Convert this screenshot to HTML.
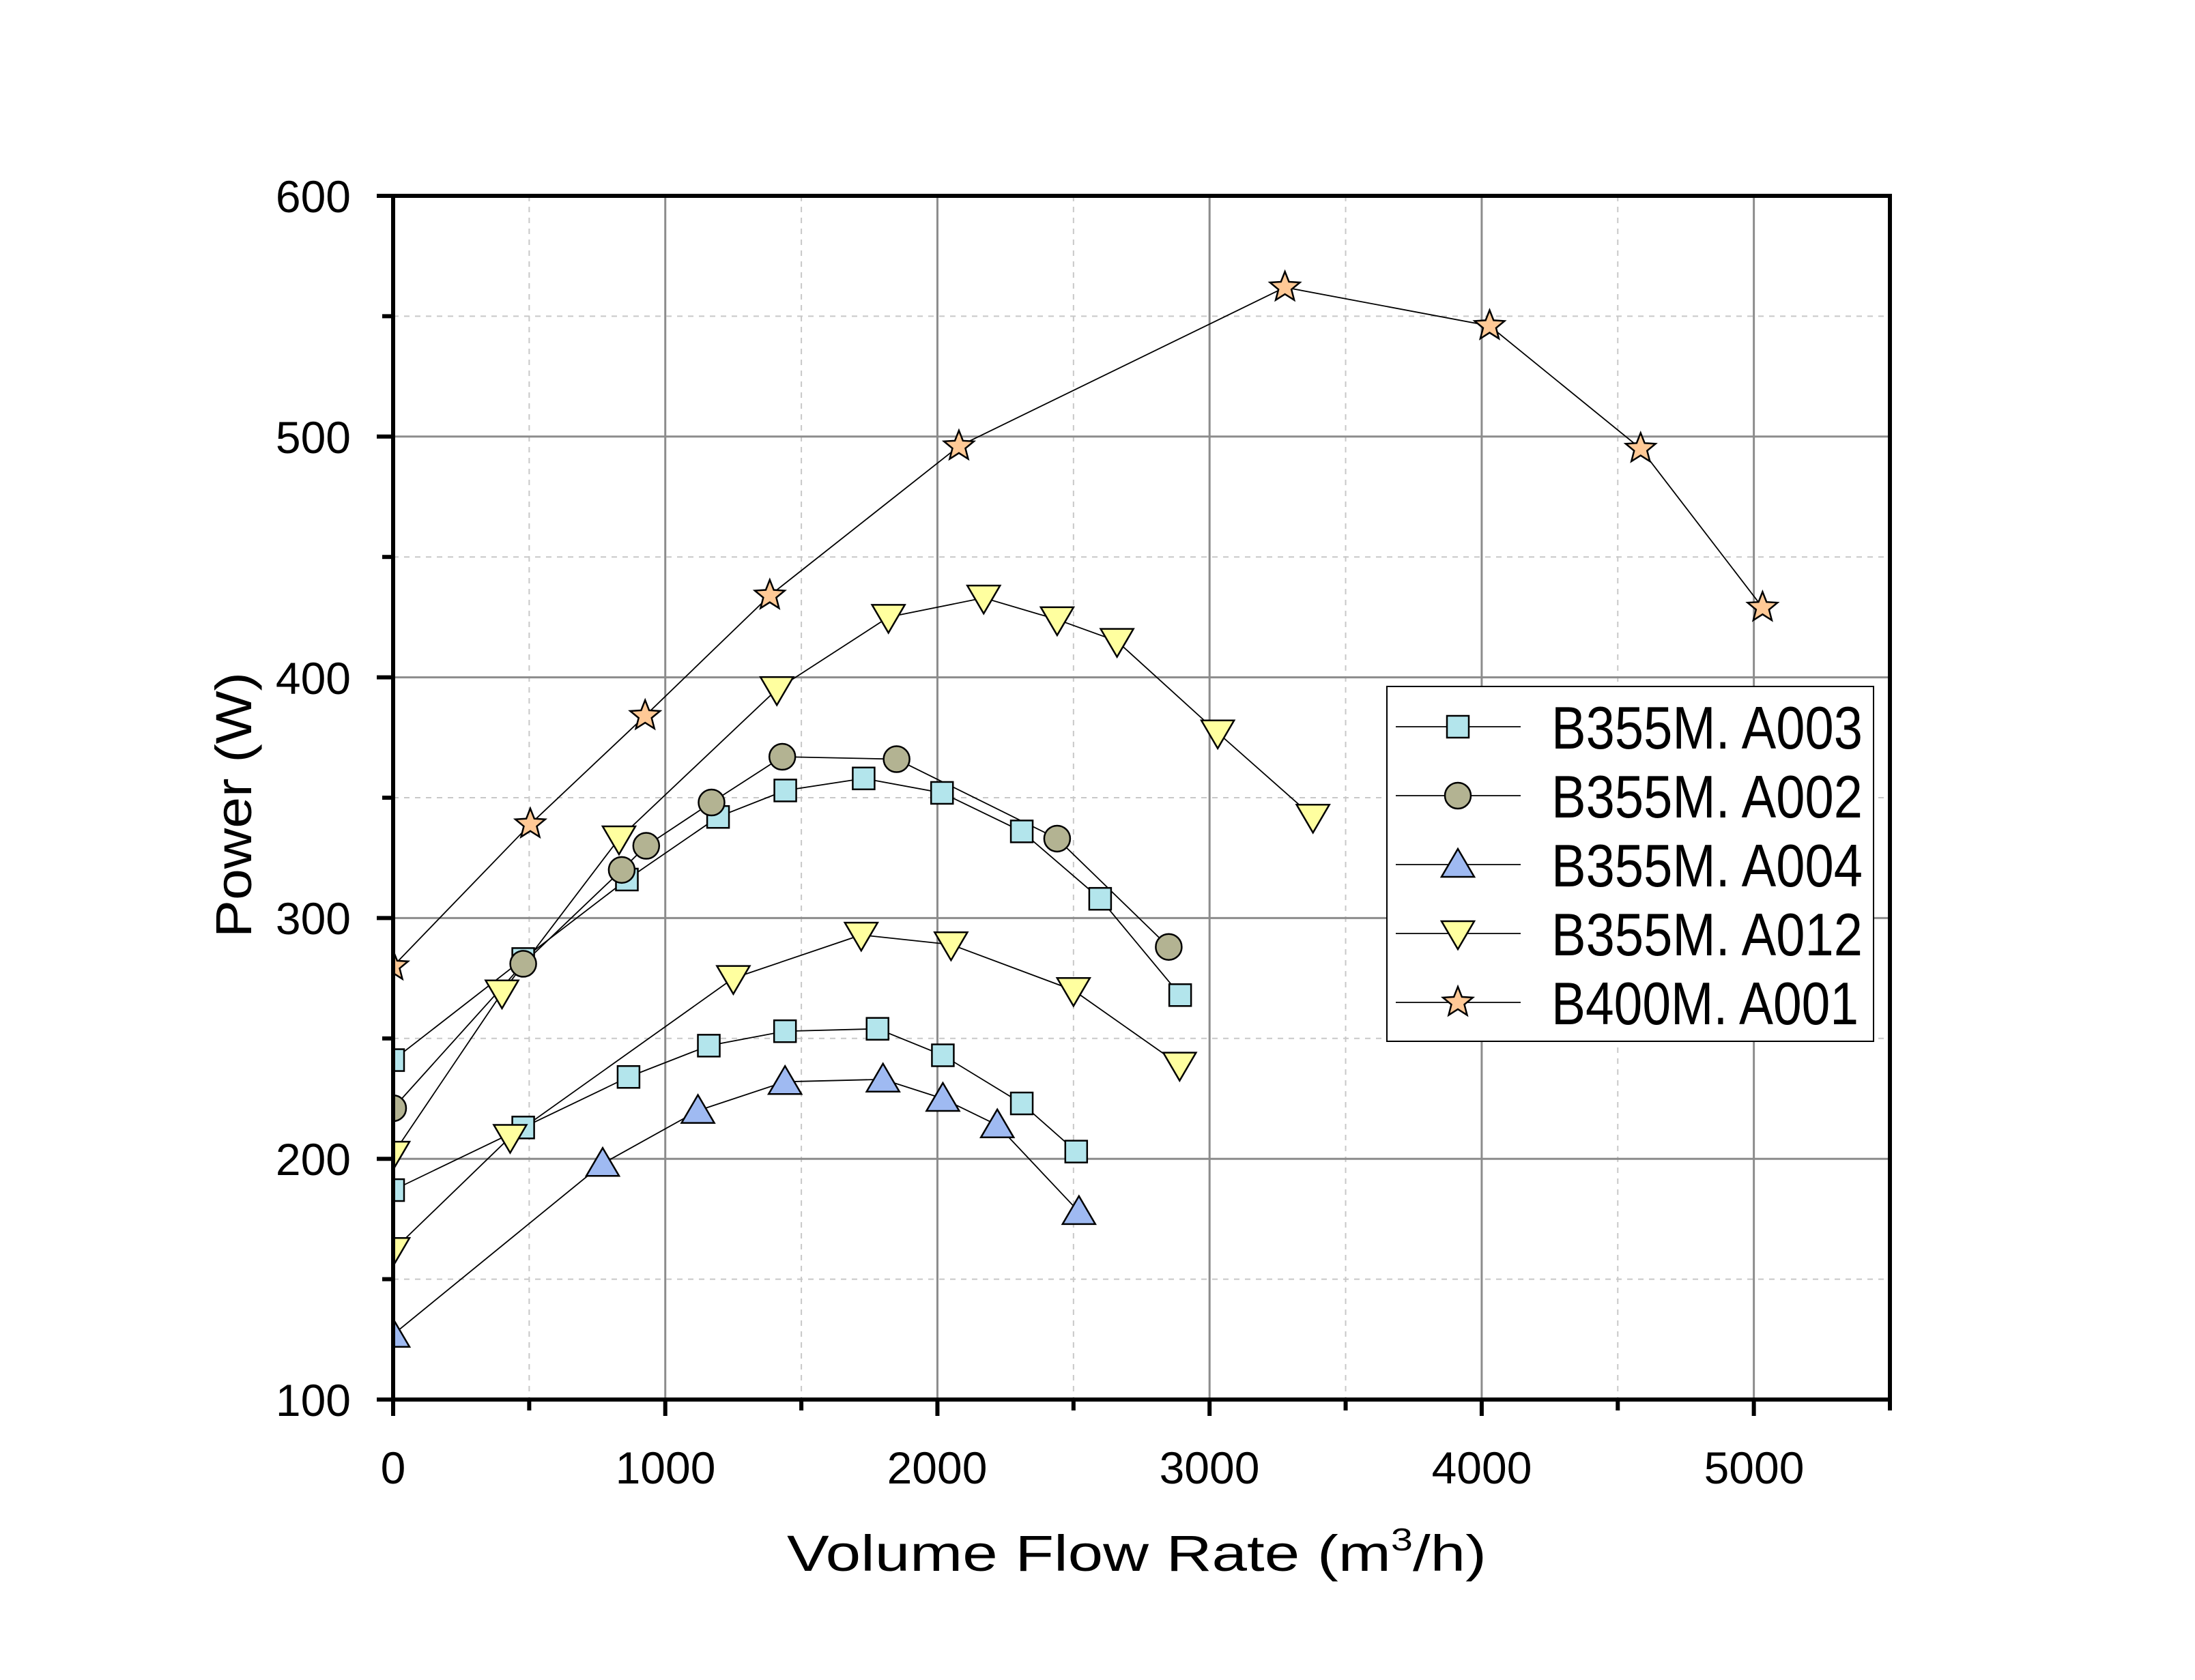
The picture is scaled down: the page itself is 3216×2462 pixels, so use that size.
<!DOCTYPE html>
<html><head><meta charset="utf-8"><style>
html,body{margin:0;padding:0;background:#fff}
svg{display:block}
text{font-family:"Liberation Sans","Noto Sans CJK SC",sans-serif;fill:#000}
</style></head><body>
<svg id="s" width="3216" height="2462" viewBox="0 0 3216 2462" xmlns="http://www.w3.org/2000/svg">
<defs><clipPath id="c"><rect x="576" y="287" width="2193" height="1764"/></clipPath></defs>
<g id="grid"></g>
<g id="data" clip-path="url(#c)"></g>
<g id="axes"></g>
<g font-size="66">
<text x="514" y="311" text-anchor="end">600</text>
<text x="514" y="664" text-anchor="end">500</text>
<text x="514" y="1017" text-anchor="end">400</text>
<text x="514" y="1369" text-anchor="end">300</text>
<text x="514" y="1722" text-anchor="end">200</text>
<text x="514" y="2075" text-anchor="end">100</text>
<text x="576" y="2174" text-anchor="middle">0</text>
<text x="975" y="2174" text-anchor="middle">1000</text>
<text x="1373" y="2174" text-anchor="middle">2000</text>
<text x="1772" y="2174" text-anchor="middle">3000</text>
<text x="2171" y="2174" text-anchor="middle">4000</text>
<text x="2570" y="2174" text-anchor="middle">5000</text>
</g>
<text x="1153" y="2302" font-size="74" textLength="1025" lengthAdjust="spacingAndGlyphs">Volume Flow Rate (m<tspan font-size="46" dy="-30">3</tspan><tspan dy="30">/h)</tspan></text>
<text transform="translate(368,1374) rotate(-90)" font-size="74" textLength="389" lengthAdjust="spacingAndGlyphs">Power (W)</text>
<rect x="2032" y="1006" width="713" height="520" fill="#fff" stroke="#000" stroke-width="2"/>
<g id="leg"></g>
<g font-size="88">
<text x="2273" y="1097" textLength="456" lengthAdjust="spacingAndGlyphs">B355M. A003</text>
<text x="2273" y="1198" textLength="456" lengthAdjust="spacingAndGlyphs">B355M. A002</text>
<text x="2273" y="1299" textLength="456" lengthAdjust="spacingAndGlyphs">B355M. A004</text>
<text x="2273" y="1400" textLength="456" lengthAdjust="spacingAndGlyphs">B355M. A012</text>
<text x="2273" y="1501" textLength="450" lengthAdjust="spacingAndGlyphs">B400M. A001</text>
</g>
</svg>
<script>
var NS="http://www.w3.org/2000/svg";
function X(v){return 576+v*2193/5500}
function Y(v){return 2051-(v-100)*1764/500}
function el(p,t,a){var e=document.createElementNS(NS,t);for(var k in a)e.setAttribute(k,a[k]);document.getElementById(p).appendChild(e);return e}
for(var v=500;v<5500;v+=500){var maj=v%1000==0;el("grid","line",{x1:X(v),x2:X(v),y1:287,y2:2051,stroke:maj?"#8c8c8c":"#c8c8c8","stroke-width":maj?3:2,"stroke-dasharray":maj?"none":"8 8"})}
for(var v=150;v<600;v+=50){var maj=v%100==0;el("grid","line",{x1:576,x2:2769,y1:Y(v),y2:Y(v),stroke:maj?"#8c8c8c":"#c8c8c8","stroke-width":maj?3:2,"stroke-dasharray":maj?"none":"8 8"})}
el("axes","rect",{x:576,y:287,width:2193,height:1764,fill:"none",stroke:"#000","stroke-width":6});
for(var v=0;v<=5500;v+=500){el("axes","line",{x1:X(v),x2:X(v),y1:2051,y2:v%1000==0?2075:2067,stroke:"#000","stroke-width":6})}
for(var v=100;v<=600;v+=50){el("axes","line",{x1:576,x2:v%100==0?552:560,y1:Y(v),y2:Y(v),stroke:"#000","stroke-width":6})}
function marker(g,type,cx,cy,fill){
 var st={fill:fill,stroke:"#000","stroke-width":2.5};
 if(type=="sq"){st.x=cx-16;st.y=cy-16;st.width=32;st.height=32;el(g,"rect",st)}
 else if(type=="ci"){st.cx=cx;st.cy=cy;st.r=19;el(g,"circle",st)}
 else if(type=="up"){st.points=[cx,cy-23,cx+24,cy+18,cx-24,cy+18].join(" ");el(g,"polygon",st)}
 else if(type=="dn"){st.points=[cx-24,cy-18,cx+24,cy-18,cx,cy+23].join(" ");el(g,"polygon",st)}
 else {var p=[];for(var i=0;i<10;i++){var r=i%2?10:23,a=-Math.PI/2+i*Math.PI/5;p.push(cx+r*Math.cos(a),cy+r*Math.sin(a))}st.points=p.join(" ");el(g,"polygon",st)}
}
var C={sq:"#b3e5ec",ci:"#b3b392",up:"#9fbaf2",dn:"#ffff9f",st:"#ffc996"};
var S=[
["sq",[[0,241],[478,283],[859,316],[1194,342],[1441,353],[1729,358],[2017,352],[2310,336],[2598,308],[2892,268]]],
["sq",[[0,187],[478,213],[865,234],[1160,247],[1440,253],[1780,254],[2020,243],[2310,223],[2510,203]]],
["ci",[[0,221],[478,281],[840,320],[930,330],[1170,348],[1430,367],[1850,366],[2440,333],[2850,288]]],
["up",[[0,127],[770,198],[1120,220],[1440,232],[1800,233],[2020,225],[2220,214],[2520,178]]],
["dn",[[0,202],[400,269],[830,333],[1410,395],[1820,425],[2170,433],[2440,424],[2660,415],[3030,377],[3380,342]]],
["dn",[[0,162],[430,209],[1250,275],[1720,293],[2050,289],[2500,270],[2890,239]]],
["st",[[0,280],[504,339],[926,384],[1384,434],[2079,496],[3277,562],[4029,546],[4584,495],[5032,429]]]
];
S.forEach(function(s){el("data","polyline",{points:s[1].map(function(p){return X(p[0])+","+Y(p[1])}).join(" "),fill:"none",stroke:"#000","stroke-width":1.8})});
S.forEach(function(s){s[1].forEach(function(p){marker("data",s[0],X(p[0]),Y(p[1]),C[s[0]])})});
var L=["sq","ci","up","dn","st"],LY=[1065,1166,1267,1368,1469];
L.forEach(function(t,i){el("leg","line",{x1:2045,x2:2228,y1:LY[i],y2:LY[i],stroke:"#000","stroke-width":1.8});marker("leg",t,2136,LY[i],C[t])});
</script>
</body></html>
